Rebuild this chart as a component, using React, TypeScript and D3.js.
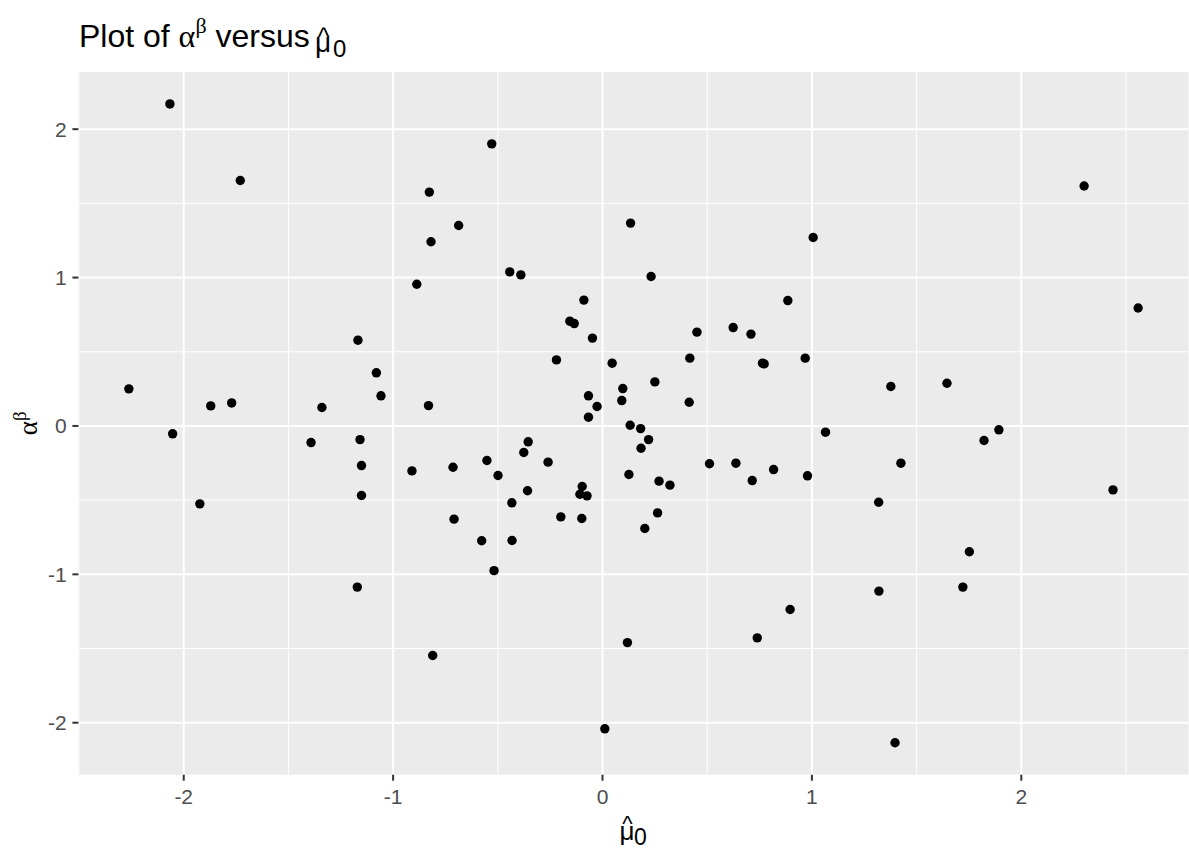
import { scaleLinear, extent } from "d3"

// estimated estimates of mu-hat_0 (x) and alpha^beta (y)
const muHat = [
  -2.066, -1.73, -0.827, -0.687, -0.819, -0.887, -1.168, -1.08, -1.171, -0.811,
  0.134, 1.006, 0.232, 0.885, 0.451, 0.624, 0.709, 0.417, 0.764, 0.772,
  0.968, 0.046, 0.25, 0.097, 0.092, 0.414, -0.026, 0.132, 0.182, 0.22,
  0.184, 1.065, 0.126, 0.27, 0.322, 0.511, 0.637, 0.715, 0.817, 0.979,
  0.263, 0.202, 0.896, 0.739, 0.119, 1.377, 1.645, 1.893, 1.822, 1.425,
  1.319, 2.438, 1.752, 1.32, 1.721, 2.3, 2.558, 1.397, 0.011, -0.089,
  -0.156, -0.135, -0.048, -0.22, -0.067, -0.067, -0.355, -0.376, -0.552, -0.26,
  -0.499, -0.358, -0.433, -0.097, -0.108, -0.074, -0.199, -0.099, -0.529, -0.443,
  -0.39, -1.058, -1.34, -0.831, -1.392, -1.158, -1.151, -0.91, -0.714, -1.151,
  -0.709, -0.577, -0.432, -0.518, -2.262, -2.053, -1.923, -1.871, -1.771,
]
const alphaBeta = [
  2.17, 1.654, 1.576, 1.351, 1.241, 0.955, 0.578, 0.358, -1.086, -1.547,
  1.367, 1.27, 1.007, 0.845, 0.632, 0.663, 0.619, 0.457, 0.423, 0.418,
  0.457, 0.423, 0.297, 0.252, 0.171, 0.16, 0.131, 0.005, -0.018, -0.092,
  -0.15, -0.042, -0.327, -0.372, -0.399, -0.255, -0.251, -0.368, -0.294, -0.336,
  -0.586, -0.691, -1.237, -1.428, -1.46, 0.266, 0.288, -0.026, -0.098, -0.251,
  -0.514, -0.431, -0.848, -1.113, -1.086, 1.617, 0.795, -2.135, -2.041, 0.848,
  0.706, 0.69, 0.592, 0.445, 0.203, 0.059, -0.107, -0.179, -0.233, -0.244,
  -0.334, -0.437, -0.518, -0.408, -0.46, -0.471, -0.613, -0.624, 1.901, 1.038,
  1.018, 0.203, 0.124, 0.137, -0.112, -0.092, -0.267, -0.303, -0.278, -0.469,
  -0.628, -0.774, -0.772, -0.975, 0.25, -0.053, -0.525, 0.135, 0.155,
]

const xTicks = [-2, -1, 0, 1, 2]
const yTicks = [-2, -1, 0, 1, 2]
const xMinor = [-2.5, -1.5, -0.5, 0.5, 1.5, 2.5]
const yMinor = [-1.5, -0.5, 0.5, 1.5]

const W = 1189
const H = 849
const panel = { left: 78.4, top: 72, right: 1188.6, bottom: 774.7 }

const SANS = "'Liberation Sans', Arial, sans-serif"
const SERIF = "'Liberation Serif', 'Times New Roman', serif"

// ggplot-style 5% expansion on both sides
function expand([lo, hi]: [number, number]): [number, number] {
  const pad = (hi - lo) * 0.05
  return [lo - pad, hi + pad]
}

const fmt = (t: number) => (t < 0 ? `-${Math.abs(t)}` : String(t))

export default function App() {
  const x = scaleLinear()
    .domain(expand(extent(muHat) as [number, number]))
    .range([panel.left, panel.right])
  const y = scaleLinear()
    .domain(expand(extent(alphaBeta) as [number, number]))
    .range([panel.bottom, panel.top])

  const cy = (panel.top + panel.bottom) / 2

  return (
    <div style={{ position: "absolute", left: 0, top: 0 }}>
      <svg width={W} height={H} style={{ display: "block", background: "#fff" }}>
        <defs>
          <clipPath id="panel-clip">
            <rect x={panel.left} y={panel.top} width={panel.right - panel.left} height={panel.bottom - panel.top} />
          </clipPath>
        </defs>

        {/* panel */}
        <rect
          x={panel.left}
          y={panel.top}
          width={panel.right - panel.left}
          height={panel.bottom - panel.top}
          fill="#EBEBEB"
        />
        <g clipPath="url(#panel-clip)">
          {xMinor.map((t) => (
            <line key={`xm${t}`} x1={x(t)} x2={x(t)} y1={panel.top} y2={panel.bottom} stroke="#fff" strokeWidth={1} />
          ))}
          {yMinor.map((t) => (
            <line key={`ym${t}`} x1={panel.left} x2={panel.right} y1={y(t)} y2={y(t)} stroke="#fff" strokeWidth={1} />
          ))}
          {xTicks.map((t) => (
            <line key={`x${t}`} x1={x(t)} x2={x(t)} y1={panel.top} y2={panel.bottom} stroke="#fff" strokeWidth={2} />
          ))}
          {yTicks.map((t) => (
            <line key={`y${t}`} x1={panel.left} x2={panel.right} y1={y(t)} y2={y(t)} stroke="#fff" strokeWidth={2} />
          ))}

          {/* points */}
          {muHat.map((m, i) => (
            <circle key={i} cx={x(m)} cy={y(alphaBeta[i])} r={4.7} fill="#000" />
          ))}
        </g>

        {/* axes ticks + labels */}
        {xTicks.map((t) => (
          <g key={`xt${t}`}>
            <line x1={x(t)} x2={x(t)} y1={panel.bottom} y2={panel.bottom + 6} stroke="#333" strokeWidth={2} />
            <text x={x(t)} y={803.5} textAnchor="middle" fontFamily={SANS} fontSize={21} fill="#4D4D4D">
              {fmt(t)}
            </text>
          </g>
        ))}
        {yTicks.map((t) => (
          <g key={`yt${t}`}>
            <line x1={panel.left - 6} x2={panel.left} y1={y(t)} y2={y(t)} stroke="#333" strokeWidth={2} />
            <text x={66.7} y={y(t) + 7.5} textAnchor="end" fontFamily={SANS} fontSize={21} fill="#4D4D4D">
              {fmt(t)}
            </text>
          </g>
        ))}

        {/* x axis title: mu-hat_0, hat as a shifted glyph inside the same text */}
        <text x={619.5} y={839.5} fontFamily={SANS} fontSize={26} fill="#000">
          <tspan>{"\u03bc"}</tspan>
          <tspan fontSize={22} dx={-12.2} dy={-9}>^</tspan>
          <tspan fontSize={23} dx={1.4} dy={14}>0</tspan>
        </text>

        {/* y axis title: alpha^beta */}
        <text
          transform={`translate(37,${cy}) rotate(-90)`}
          textAnchor="middle"
          fontFamily={SERIF}
          fontSize={27}
          fill="#000"
        >
          <tspan>{"\u03b1"}</tspan>
          <tspan fontSize={19} dy={-11}>{"\u03b2"}</tspan>
        </text>

        {/* title */}
        <text x={79} y={46.7} fontFamily={SANS} fontSize={32} fill="#000">
          <tspan>Plot of </tspan>
          <tspan fontFamily={SERIF}>{"\u03b1"}</tspan>
          <tspan fontFamily={SERIF} fontSize={22} dy={-14}>{"\u03b2"}</tspan>
          <tspan dy={14}>{" versus"}</tspan>
          <tspan x={315} fontSize={28} dy={5.3}>{"\u03bc"}</tspan>
          <tspan fontSize={25} dx={-13.5} dy={-6}>^</tspan>
          <tspan fontSize={24} dx={3.7} dy={10.5}>0</tspan>
        </text>
      </svg>
    </div>
  )
}
